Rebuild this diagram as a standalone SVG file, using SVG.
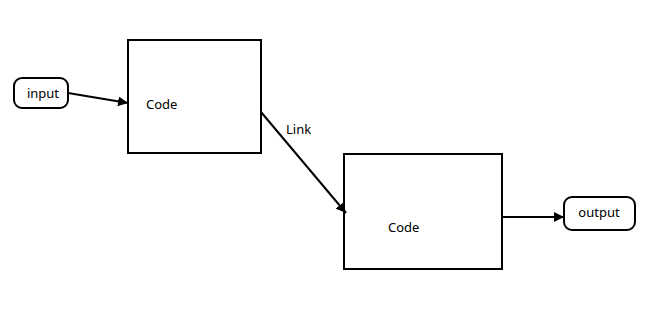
<svg xmlns="http://www.w3.org/2000/svg" width="650" height="335" viewBox="0 0 650 335">
<defs>
<style>
.box{fill:#fff;stroke:#000;stroke-width:2}
.lbl{font-family:"Noto Sans","Open Sans","Liberation Sans",sans-serif;font-size:13px;fill:#000}
.conn{stroke:#000;stroke-width:2;fill:none;marker-end:url(#arr)}
</style>
<marker id="arr" viewBox="0 0 10 10" refX="10" refY="5" markerWidth="5" markerHeight="5" orient="auto" markerUnits="strokeWidth">
<path d="M0,0 L10,5 L0,10 z" fill="#000"/>
</marker>
</defs>
<rect width="650" height="335" fill="#fff"/>
<g id="input">
<rect class="box" x="14" y="78" width="54" height="30" rx="8"/>
<text class="lbl" x="43" y="98" text-anchor="middle">input</text>
</g>
<g id="code1">
<rect class="box" x="128" y="40" width="133" height="113"/>
<text class="lbl" x="146" y="109">Code</text>
</g>
<g id="code2">
<rect class="box" x="344" y="154" width="158" height="115"/>
<text class="lbl" x="388" y="232">Code</text>
</g>
<g id="output">
<rect class="box" x="564" y="197" width="71" height="33" rx="8"/>
<text class="lbl" x="599" y="217" text-anchor="middle">output</text>
</g>
<g id="connectors">
<line class="conn" x1="68" y1="93" x2="128" y2="103"/>
<line class="conn" x1="261" y1="112" x2="346" y2="213"/>
<text class="lbl" x="286" y="134">Link</text>
<line class="conn" x1="502" y1="217" x2="564" y2="217"/>
</g>
</svg>
